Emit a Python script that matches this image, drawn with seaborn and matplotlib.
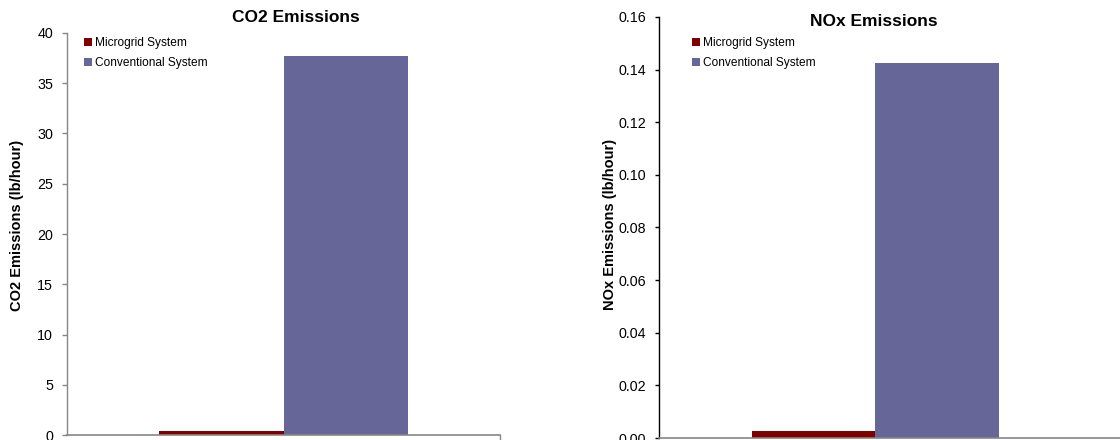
import matplotlib
matplotlib.use("Agg")
import matplotlib.pyplot as plt
import seaborn as sns
import pandas as pd
from matplotlib.patches import Patch

# ---- data ----
systems = ["Microgrid System", "Conventional System"]
co2_values = [0.4, 37.7]
nox_values = [0.0027, 0.1425]
co2_ticks = [0, 5, 10, 15, 20, 25, 30, 35, 40]
nox_ticks = [0.00, 0.02, 0.04, 0.06, 0.08, 0.10, 0.12, 0.14, 0.16]
colors = ["#800000", "#666699"]

sns.set_theme(style="white")
plt.rcParams["font.family"] = ["Liberation Sans", "DejaVu Sans"]
plt.rcParams["text.color"] = "#000000"

W, H = 1120, 440
fig = plt.figure(figsize=(W / 100, H / 100), dpi=100)


def px_axes(l, r, top, bottom):
    return fig.add_axes([l / W, 1 - bottom / H, (r - l) / W, (bottom - top) / H])


ax1 = px_axes(67, 500, 33, 435)
ax2 = px_axes(659, 1122, 17, 438)

palette = dict(zip(systems, colors))

for ax, vals, ticks, lim, fmt, spine_col, xlim, tlen, tpad in [
    (ax1, co2_values, co2_ticks, 40, "{:.0f}", "#868686", (-0.696, 0.696), 3.6, 6.5),
    (ax2, nox_values, nox_ticks, 0.16, "{:.2f}", "#000000", (-0.7, 0.8), 3.0, 6.5),
]:
    df = pd.DataFrame({"cat": ["", ""], "system": systems, "value": vals})
    sns.barplot(data=df, x="cat", y="value", hue="system", palette=palette,
                width=0.8, saturation=1, ax=ax, legend=False)
    ax.set_ylim(0, lim)
    ax.set_xlim(*xlim)
    ax.set_yticks(ticks)
    ax.set_yticklabels([fmt.format(t) for t in ticks], fontsize=10.3, color="#000000")
    ax.set_xticks([])
    ax.set_xlabel("")
    ax.set_ylabel("")
    ax.tick_params(axis="y", left=True, direction="out", length=tlen, width=1,
                   pad=tpad, colors=spine_col, labelcolor="#000000")
    for s in ["top", "right"]:
        ax.spines[s].set_visible(False)
    ax.spines["left"].set_color(spine_col)
    ax.spines["bottom"].set_color("#868686")
    ax.spines["left"].set_linewidth(1)
    ax.spines["bottom"].set_linewidth(1.2)
    for b in ax.patches:
        b.set_edgecolor("none")

# tick mark at right end of left x-axis
ax1.plot([0.696, 0.696], [0, -0.012], transform=ax1.get_xaxis_transform(),
         color="#868686", lw=1, clip_on=False)

# titles
fig.text(295.5 / W, 1 - 17 / H, "CO2 Emissions", ha="center", va="center",
         fontsize=12.5, fontweight="bold", color="#000000")
fig.text(873.5 / W, 1 - 21 / H, "NOx Emissions", ha="center", va="center",
         fontsize=12.5, fontweight="bold", color="#000000")

# y labels
fig.text(17 / W, 1 - 225 / H, "CO2 Emissions (lb/hour)", rotation=90,
         ha="center", va="center", fontsize=10.5, fontweight="bold", color="#000000")
fig.text(610 / W, 1 - 224 / H, "NOx Emissions (lb/hour)", rotation=90,
         ha="center", va="center", fontsize=10.5, fontweight="bold", color="#000000")

# legends
handles = [Patch(facecolor=c, edgecolor="none") for c in colors]
for x0 in (84, 692):
    leg = fig.legend(handles, systems, loc="upper left",
                     bbox_to_anchor=(x0 / W, 1 - 37 / H), frameon=False,
                     fontsize=8.6, handlelength=0.68, handleheight=0.68,
                     handletextpad=0.25, labelspacing=0.7, borderpad=0,
                     borderaxespad=0)
    for t in leg.get_texts():
        t.set_color("#000000")

fig.savefig("out.png", dpi=100)
